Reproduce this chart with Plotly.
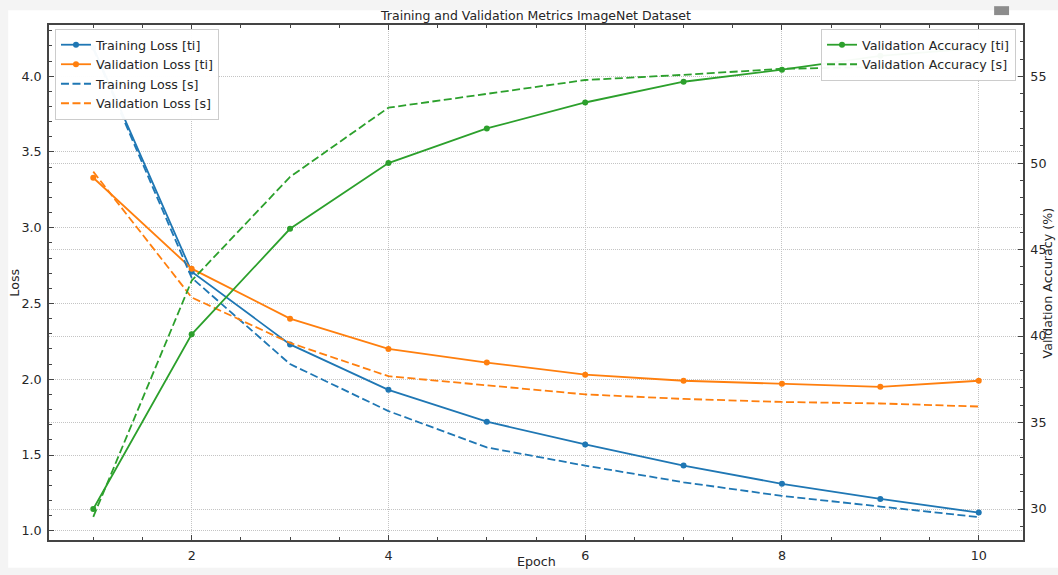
import plotly.graph_objects as go

# ---------------- data ----------------
epochs = [1, 2, 3, 4, 5, 6, 7, 8, 9, 10]
train_loss_ti = [4.19, 2.71, 2.23, 1.93, 1.72, 1.57, 1.43, 1.31, 1.21, 1.12]
val_loss_ti = [3.33, 2.73, 2.40, 2.20, 2.11, 2.03, 1.99, 1.97, 1.95, 1.99]
train_loss_s = [4.18, 2.67, 2.10, 1.79, 1.55, 1.43, 1.32, 1.23, 1.16, 1.09]
val_loss_s = [3.37, 2.54, 2.24, 2.02, 1.96, 1.90, 1.87, 1.85, 1.84, 1.82]
val_acc_ti = [30.0, 40.1, 46.2, 50.0, 52.0, 53.5, 54.7, 55.4, 56.2, 56.65]
val_acc_s = [29.55, 43.2, 49.2, 53.2, 54.0, 54.8, 55.1, 55.45, 55.55, 55.7]

x_ticks = [2, 4, 6, 8, 10]
title_text = "Training and Validation Metrics ImageNet Dataset"

# ---------------- styling ----------------
BLUE, ORANGE, GREEN = "#1f77b4", "#ff7f0e", "#2ca02c"
FONT = "DejaVu Sans"
TXT = "#262626"
SPINE = "#444444"
GRID = "#c4c4c4"
DASH = "8px,3.5px"
LW = 1.8
MS = 6
PAGE_BG = "#f4f4f4"
LEG_BG = "rgba(255,255,255,0.96)"

W, H = 1058, 575
L, R, T, B = 49, 1027, 25, 545  # plot area in pixels
PW, PH = R - L, B - T


def px_x(px):
    return (px - L) / PW


def px_y(py):
    return (B - py) / PH


fig = go.Figure()

fig.add_trace(go.Scatter(x=epochs, y=train_loss_ti, name="Training Loss [ti]", mode="lines+markers",
                         line=dict(color=BLUE, width=LW), marker=dict(size=MS, color=BLUE),
                         legend="legend"))
fig.add_trace(go.Scatter(x=epochs, y=val_loss_ti, name="Validation Loss [ti]", mode="lines+markers",
                         line=dict(color=ORANGE, width=LW), marker=dict(size=MS, color=ORANGE),
                         legend="legend"))
fig.add_trace(go.Scatter(x=epochs, y=train_loss_s, name="Training Loss [s]", mode="lines",
                         line=dict(color=BLUE, width=LW, dash=DASH), legend="legend"))
fig.add_trace(go.Scatter(x=epochs, y=val_loss_s, name="Validation Loss [s]", mode="lines",
                         line=dict(color=ORANGE, width=LW, dash=DASH), legend="legend"))
fig.add_trace(go.Scatter(x=epochs, y=val_acc_ti, name="Validation Accuracy [ti]", mode="lines+markers",
                         line=dict(color=GREEN, width=LW), marker=dict(size=MS, color=GREEN),
                         yaxis="y2", legend="legend2"))
fig.add_trace(go.Scatter(x=epochs, y=val_acc_s, name="Validation Accuracy [s]", mode="lines",
                         line=dict(color=GREEN, width=LW, dash=DASH),
                         yaxis="y2", legend="legend2"))

tickfont = dict(family=FONT, size=12.7, color=TXT)
common_axis = dict(
    showline=True, linecolor=SPINE, linewidth=1.6,
    ticks="inside", ticklen=5, tickwidth=1.2, tickcolor=SPINE,
    showgrid=True, gridcolor=GRID, gridwidth=1, griddash="1px,1px",
    zeroline=False, tickfont=tickfont, ticklabelstandoff=3,
)

fig.update_layout(
    width=W, height=H,
    margin=dict(l=L, r=W - R, t=T, b=H - B, pad=0),
    paper_bgcolor=PAGE_BG,
    plot_bgcolor="white",
    font=dict(family=FONT, size=12.7, color=TXT),
    title=dict(text=title_text, x=0.5, xref="paper", xanchor="center",
               y=1 - 16 / H, yref="container", yanchor="middle",
               font=dict(family=FONT, size=12.5, color=TXT)),
    showlegend=True,
    xaxis=dict(range=[0.55, 10.45], tickvals=x_ticks, mirror="ticks",
               minor=dict(dtick=0.5, tick0=0, ticks="inside", ticklen=3, tickcolor=SPINE, showgrid=False),
               **common_axis),
    yaxis=dict(range=[0.939, 4.338], dtick=0.5, tick0=0, tickformat=".1f",
               minor=dict(dtick=0.1, tick0=0, ticks="inside", ticklen=3, tickcolor=SPINE, showgrid=False),
               **common_axis),
    yaxis2=dict(range=[28.21, 57.98], dtick=5, tick0=0, overlaying="y", side="right",
                minor=dict(dtick=1, tick0=0, ticks="inside", ticklen=3, tickcolor=SPINE, showgrid=False),
                **common_axis),
    legend=dict(x=px_x(55), y=px_y(29), xanchor="left", yanchor="top",
                bgcolor=LEG_BG, bordercolor="#cccccc", borderwidth=1,
                font=dict(family=FONT, size=12.7, color=TXT), tracegroupgap=0),
    legend2=dict(x=px_x(1020), y=px_y(29), xanchor="right", yanchor="top",
                 bgcolor=LEG_BG, bordercolor="#cccccc", borderwidth=1,
                 font=dict(family=FONT, size=12.7, color=TXT), tracegroupgap=0),
    shapes=[
        # white figure canvas inside the grey page
        dict(type="rect", xref="paper", yref="paper", layer="below",
             x0=px_x(8), x1=px_x(1070), y0=px_y(573), y1=px_y(10),
             fillcolor="white", line=dict(width=0)),
        # small toolbar icon at the top right
        dict(type="rect", xref="paper", yref="paper", layer="above",
             x0=px_x(998), x1=px_x(1013), y0=px_y(15), y1=px_y(6),
             fillcolor="#8c8c8c", line=dict(width=0)),
    ],
    annotations=[
        dict(text="Loss", xref="paper", yref="paper", x=px_x(14), y=px_y(285),
             textangle=-90, showarrow=False, xanchor="center", yanchor="middle",
             font=dict(family=FONT, size=12.7, color=TXT)),
        dict(text="Epoch", xref="paper", yref="paper", x=px_x(538), y=px_y(567),
             showarrow=False, xanchor="center", yanchor="middle",
             font=dict(family=FONT, size=12.7, color=TXT)),
        dict(text="Validation Accuracy (%)", xref="paper", yref="paper", x=px_x(1052), y=px_y(285),
             textangle=-90, showarrow=False, xanchor="center", yanchor="middle",
             font=dict(family=FONT, size=12.7, color=TXT)),
    ],
)

fig.write_html(
    "out.html",
    config={"displayModeBar": False},
    post_script="document.body.style.margin='0';document.body.style.background='%s';" % PAGE_BG,
)
